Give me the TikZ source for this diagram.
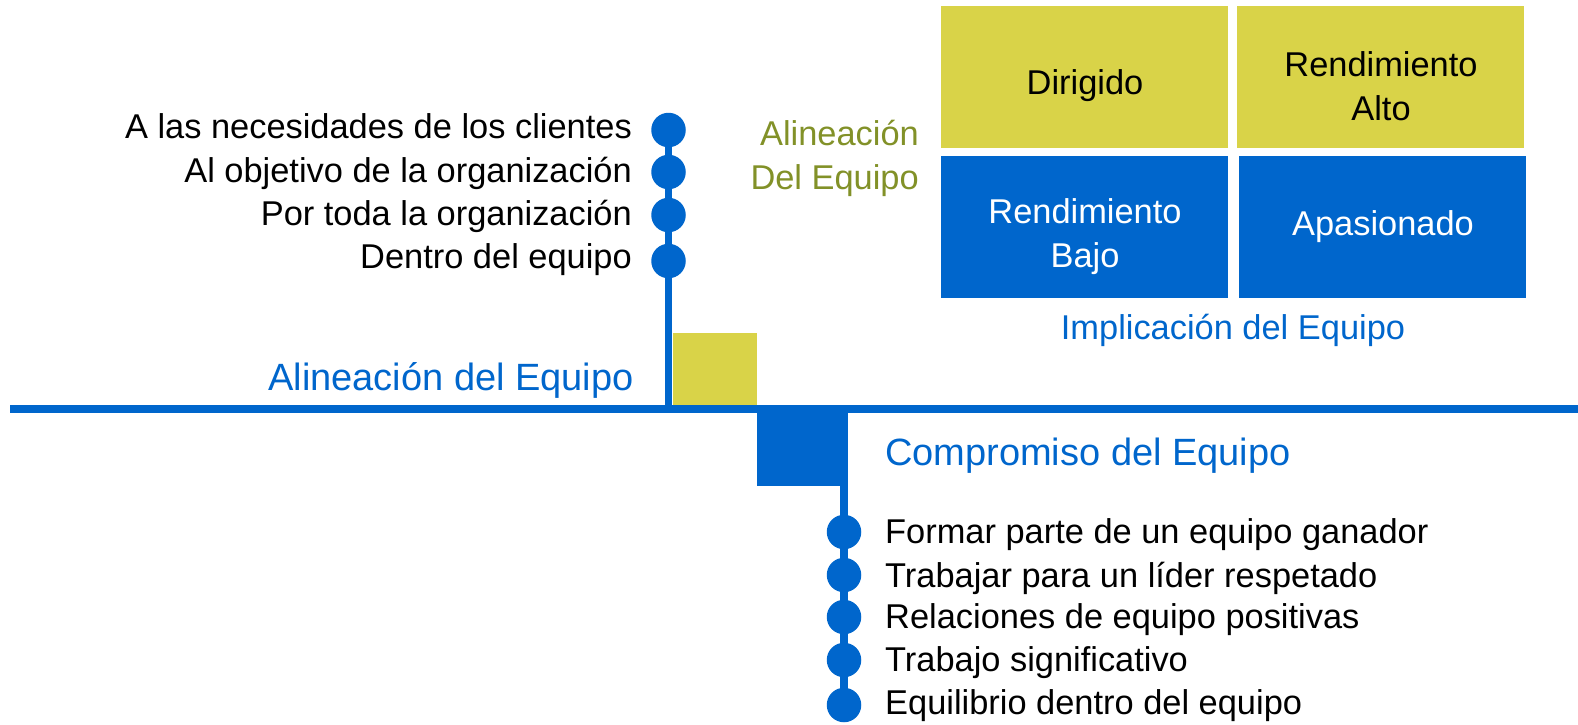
\documentclass[tikz,border=0pt]{standalone}
\usepackage{fontspec}
\setmainfont{Liberation Sans}
\definecolor{mblue}{RGB}{0,102,204}
\definecolor{myellow}{RGB}{217,211,72}
\definecolor{molive}{RGB}{130,145,40}
\begin{document}
\begin{tikzpicture}[x=1pt,y=-1pt,
  dot/.style={circle,fill=mblue,minimum size=34.5pt,inner sep=0pt},
  item/.style={font=\fontsize{34.4}{44}\selectfont,inner sep=0pt},
  ttl/.style={font=\fontsize{38}{46}\selectfont,text=mblue,inner sep=0pt},
  conn/.style={draw=mblue,line width=7.5pt},
  axisline/.style={draw=mblue,line width=8pt},
  qbox/.style={draw=none,inner sep=0pt,outer sep=0pt,anchor=north west}
]
\useasboundingbox (0,0) rectangle (1578,724);

% axis
\coordinate (axL) at (10,409);
\coordinate (axR) at (1578,409);
\coordinate (ju) at (668.5,409);
\coordinate (jd) at (844,413);
\draw[axisline] (axL) -- (axR);

% squares at the axis
\node[qbox,fill=myellow,minimum width=84pt,minimum height=72pt] (sqy) at (673,333) {};
\node[qbox,fill=mblue,minimum width=83pt,minimum height=73pt] (sqb) at (757,413) {};

% upper dots
\node[dot] (c1) at (668.5,130) {};
\node[dot] (c2) at (668.5,172) {};
\node[dot] (c3) at (668.5,215) {};
\node[dot] (c4) at (668.5,261) {};
\draw[conn] (c1.center) -- (ju);

% lower dots
\node[dot] (d1) at (844,532) {};
\node[dot] (d2) at (844,575) {};
\node[dot] (d3) at (844,617) {};
\node[dot] (d4) at (844,660) {};
\node[dot] (d5) at (844,705) {};
\draw[conn] (jd) -- (d5.center);

% upper list
\node[item,anchor=base east] (t1) at (632,138) {A las necesidades de los clientes};
\node[item,anchor=base east] (t2) at (632,182) {Al objetivo de la organización};
\node[item,anchor=base east] (t3) at (632,225) {Por toda la organización};
\node[item,anchor=base east] (t4) at (632,268) {Dentro del equipo};
\node[ttl,anchor=base east] (ta) at (634,390) {Alineación del Equipo};

% lower list
\node[ttl,anchor=base west] (tc) at (885,465) {Compromiso del Equipo};
\node[item,anchor=base west] (u1) at (885,543) {Formar parte de un equipo ganador};
\node[item,anchor=base west] (u2) at (885,587) {Trabajar para un líder respetado};
\node[item,anchor=base west] (u3) at (885,628) {Relaciones de equipo positivas};
\node[item,anchor=base west] (u4) at (885,671) {Trabajo significativo};
\node[item,anchor=base west] (u5) at (885,714) {Equilibrio dentro del equipo};

% matrix
\node[qbox,fill=myellow,minimum width=287pt,minimum height=142pt] (q1) at (941,6) {};
\node[qbox,fill=myellow,minimum width=287pt,minimum height=142pt] (q2) at (1237,6) {};
\node[qbox,fill=mblue,minimum width=287pt,minimum height=142pt] (q3) at (941,156) {};
\node[qbox,fill=mblue,minimum width=287pt,minimum height=142pt] (q4) at (1239,156) {};

\node[item,anchor=base] (q1t) at (1085,94) {Dirigido};
\node[item,align=center,anchor=base] (q2t) at (1381,120) {Rendimiento\\Alto};
\node[item,text=white,align=center,anchor=base] (q3t) at (1085,267) {Rendimiento\\Bajo};
\node[item,text=white,anchor=base] (q4t) at (1383,235) {Apasionado};
\node[item,text=mblue,anchor=base] (xl) at (1233,339) {Implicación del Equipo};
\node[item,text=molive,align=right,anchor=base east] (yl) at (919,189) {Alineación\\Del Equipo};
\end{tikzpicture}
\end{document}
